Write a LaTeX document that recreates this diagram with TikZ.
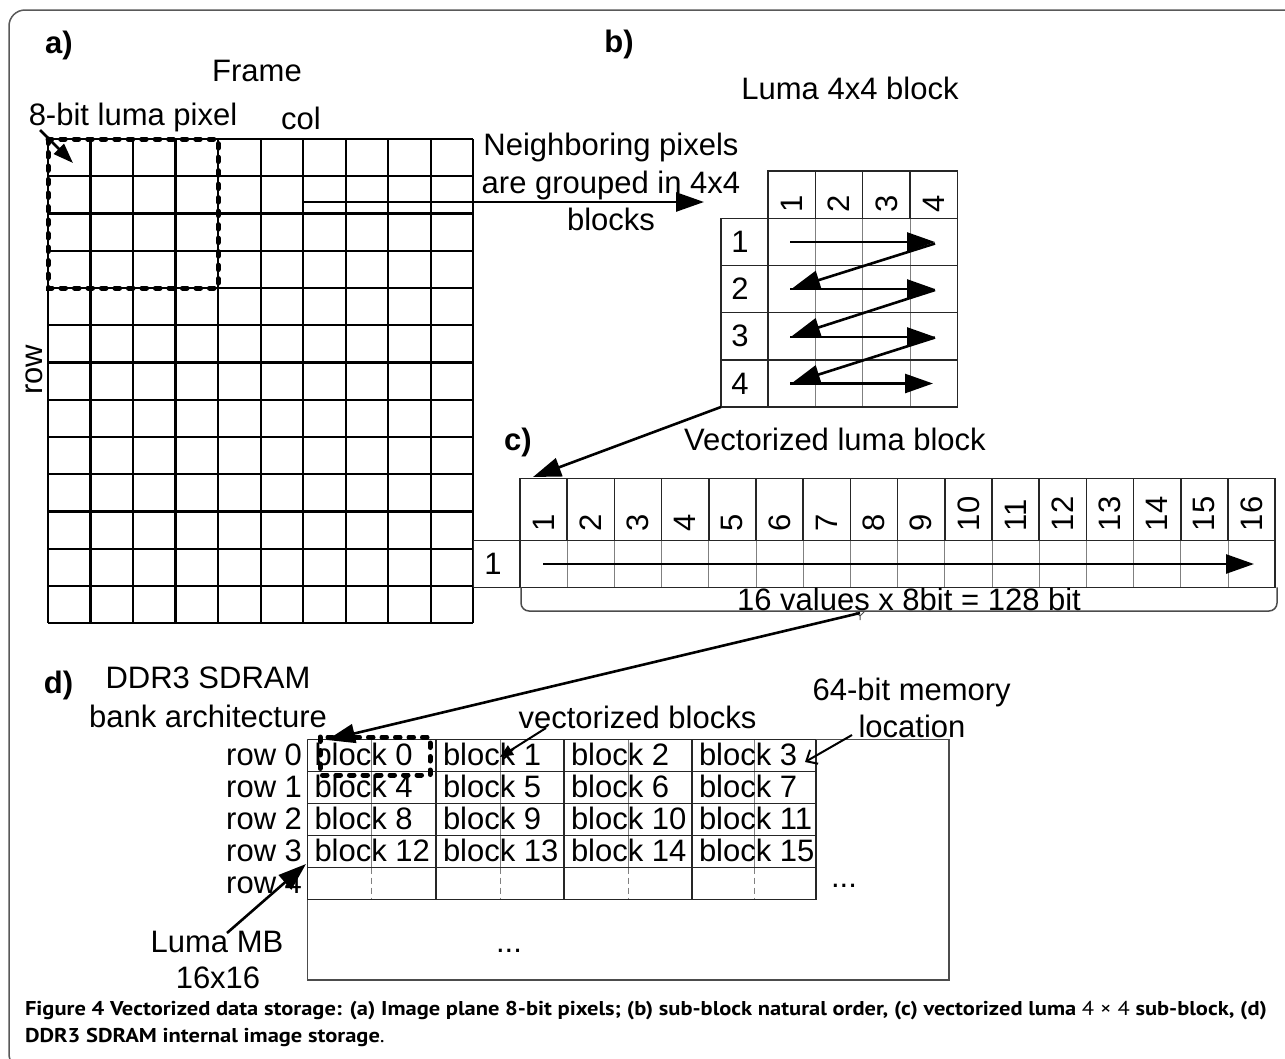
\documentclass[tikz,border=0pt]{standalone}
\usepackage{fontspec}
\usepackage{graphicx}
\setmainfont{Liberation Sans}
\newfontfamily\capfont{PT Sans}
\usetikzlibrary{arrows.meta}
\newsavebox\capboxA
\newlength\capwd
\begin{document}
\sbox\capboxA{\capfont\fontsize{20}{24}\selectfont\bfseries Figure 4 Vectorized data storage: (a) Image plane 8-bit pixels; (b) sub-block natural order, (c) vectorized luma {\mdseries 4 × 4} sub-block, (d)}%
\setlength\capwd{\wd\capboxA}%
\begin{tikzpicture}[x=1pt,y=-1pt,
  txt/.style={font=\fontsize{31}{37}\selectfont, inner sep=0pt, outer sep=0pt},
  lab/.style={font=\fontsize{31}{37}\selectfont\bfseries, inner sep=0pt, outer sep=0pt},
  gridA/.style={line width=2.2pt, black},
  gridB/.style={line width=1.5pt, black!85},
  gridthin/.style={line width=1pt, black!50},
  dotbox/.style={line width=5pt, dash pattern=on 4.5pt off 9pt, line cap=round},
  bigarrow/.style={line width=2.6pt, -{Triangle[length=28pt,width=19pt]}},
  midarrow/.style={line width=2.6pt, -{Triangle[length=20pt,width=14pt]}},
  smallarrow/.style={line width=2pt, -{Triangle[length=13pt,width=11pt]}},
  barbarrow/.style={line width=2pt, -{Straight Barb[length=9pt,width=16pt]}},
  framebox/.style={line width=1.5pt, black!65, rounded corners=16pt},
  capstyle/.style={inner sep=0pt, outer sep=0pt, anchor=base west}
]
\useasboundingbox (0,0) rectangle (1285,1058);
\clip (0,0) rectangle (1285,1058);
\fill[white] (0,0) rectangle (1285,1058);
\draw[framebox] (9,10) rectangle (1300,1070);

% ---------------- a) frame grid ----------------
\foreach \i in {0,...,10} \draw[gridA] ({48+\i*42.53},139) -- ({48+\i*42.53},623.3);
\foreach \j in {0,...,13} \draw[gridA] (48,{139+\j*37.25}) -- (473.3,{139+\j*37.25});
\draw[dotbox] (48,139) rectangle (218.1,288);

\node[lab, anchor=base] (la) at (59,53) {a)};
\node[txt, anchor=base] (frame) at (257,81) {Frame};
\node[txt, anchor=base] (pix) at (133,125) {8-bit luma pixel};
\node[txt, anchor=base] (col) at (301,129) {col};
\node[txt, rotate=90] (row) at (34,370) {row};
\coordinate (pixs) at (40,130);
\coordinate (pixe) at (73,163);
\draw[midarrow] (pixs) -- (pixe);

% ---------------- b) 4x4 block ----------------
\node[lab, anchor=base] (lb) at (619,52) {b)};
\node[txt, anchor=base] (luma44) at (850,99) {Luma 4x4 block};
\node[txt, anchor=base] (nb1) at (611,155) {Neighboring pixels};
\node[txt, anchor=base] (nb2) at (611,193) {are grouped in 4x4};
\node[txt, anchor=base] (nb3) at (611,230) {blocks};
% body thin lines
\foreach \i in {1,2,3} \draw[gridthin] ({768+\i*47.33},218.3) -- ({768+\i*47.33},407);
% header
\draw[gridB] (768,171) rectangle (957.3,218.3);
\foreach \i in {1,2,3} \draw[gridB] ({768+\i*47.33},171) -- ({768+\i*47.33},218.3);
% row label column and horizontals
\draw[gridB] (721,218.3) rectangle (957.3,407);
\draw[gridB] (768,218.3) -- (768,407);
\foreach \j in {1,2,3} \draw[gridB] (721,{218.3+\j*47.2}) -- (957.3,{218.3+\j*47.2});
\foreach \i in {1,...,4} {
  \node[txt, rotate=90, anchor=west] (bh\i) at ({768+(\i-0.5)*47.33},212) {\i};
  \node[txt] (bl\i) at (740,{218.3+(\i-0.5)*47.2}) {\i};
}
\coordinate (a1s) at (790,242);   \coordinate (a1e) at (935,242);
\coordinate (d1s) at (935,243.5); \coordinate (d1e) at (792,288.5);
\coordinate (a2s) at (790,289);   \coordinate (a2e) at (935,289);
\coordinate (d2s) at (935,290);   \coordinate (d2e) at (792,336);
\coordinate (a3s) at (790,337);   \coordinate (a3e) at (935,337);
\coordinate (d3s) at (935,337.5); \coordinate (d3e) at (792,383);
\coordinate (a4s) at (790,383.5); \coordinate (a4e) at (933,383.5);
\foreach \p in {a1,d1,a2,d2,a3,d3,a4} \draw[bigarrow] (\p s) -- (\p e);

% col arrow
\coordinate (cols) at (303,202);
\coordinate (cole) at (704,202);
\draw[bigarrow] (cols) -- (cole);

% ---------------- c) vectorized block ----------------
\node[lab, anchor=base] (lc) at (518,450) {c)};
\node[txt, anchor=base] (vlb) at (835,450) {Vectorized luma block};
\foreach \i in {1,...,15} \draw[gridthin] ({520+\i*47.2},540.7) -- ({520+\i*47.2},587.3);
\draw[gridB] (520,478.3) rectangle (1275.2,540.7);
\foreach \i in {1,...,15} \draw[gridB] ({520+\i*47.2},478.3) -- ({520+\i*47.2},540.7);
\draw[gridB] (473.3,540.7) rectangle (1275.2,587.3);
\draw[gridB] (520,540.7) -- (520,587.3);
\foreach \i in {1,...,16} \node[txt, rotate=90, anchor=west] (ch\i) at ({520+(\i-0.5)*47.2},531) {\i};
\node[txt] (cl1) at (493,564) {1};
\coordinate (vs) at (543,564);
\coordinate (ve) at (1254,564);
\draw[bigarrow] (vs) -- (ve);
% brace
\draw[line width=1.5pt, black!70, rounded corners=8pt] (521,587.3) -- (521,611) -- (1277,611) -- (1277,587.3);
\draw[line width=1pt, black!70] (855,611) -- (860,616) -- (865,611) (860,616) -- (860,620);
\node[txt, anchor=base] (vals) at (909,610.5) {16 values x 8bit = 128 bit};
% b -> c connector
\coordinate (bcs) at (721,407);
\coordinate (bce) at (533,477);
\draw[bigarrow] (bcs) -- (bce);

% ---------------- d) DDR3 ----------------
\node[lab, anchor=base] (ld) at (58.5,693) {d)};
\node[txt, anchor=base] (ddr) at (208,688) {DDR3 SDRAM};
\node[txt, anchor=base] (bank) at (208,727) {bank architecture};
\node[txt, anchor=base] (lmb1) at (217,952) {Luma MB};
\node[txt, anchor=base] (lmb2) at (218,988) {16x16};
\node[txt, anchor=base] (vecb) at (637.5,728) {vectorized blocks};
\node[txt, anchor=base] (mem1) at (911.7,700) {64-bit memory};
\node[txt, anchor=base] (mem2) at (912,737) {location};
\draw[line width=1.5pt, black!70] (307.5,739.5) rectangle (949,980);
% sub lines
\foreach \x in {371.75,500,628,754} {
  \draw[gridthin] (\x,739.5) -- (\x,867.5);
  \draw[gridthin, dashed, dash pattern=on 6pt off 4pt] (\x,867.5) -- (\x,899.5);
}
\foreach \r in {0,...,5} \draw[gridB] (307.5,{739.5+32*\r}) -- (816,{739.5+32*\r});
\foreach \x in {307.5,436,564,692,816} \draw[gridB] (\x,739.5) -- (\x,899.5);
\foreach \r in {0,...,3} {
  \foreach \c/\cx in {0/307.5,1/436,2/564,3/692} {
    \pgfmathtruncatemacro\n{4*\r+\c}
    \node[txt, anchor=base west] (blk\n) at ({\cx+7},{771.5+32*\r-6}) {block \n};
  }
}
\foreach \r in {0,...,4} \node[txt, anchor=base east] (rowl\r) at (302,{771.5+32*\r-6}) {row \r};
\node[txt, anchor=base] (dots1) at (844,887) {...};
\node[txt, anchor=base] (dots2) at (509,952) {...};
\draw[dotbox] (320,737) rectangle (430,775);
% connectors
\coordinate (brm) at (860,613);
\coordinate (b0c) at (327,740);
\draw[bigarrow] (brm) -- (b0c);
\coordinate (lms) at (227,933);
\coordinate (lme) at (306,864);
\draw[bigarrow] (lms) -- (lme);
\coordinate (vbs) at (546,728);
\coordinate (vbe) at (500,757);
\draw[smallarrow] (vbs) -- (vbe);
\coordinate (mls) at (852,735);
\coordinate (mle) at (805,762);
\draw[barbarrow] (mls) -- (mle);

% ---------------- caption ----------------
\pgfmathsetmacro\capfac{1242/\capwd}
\node[capstyle] (cap1) at (25,1015) {\scalebox{\capfac}[1]{\usebox\capboxA}};
\node[capstyle] (cap2) at (25,1042) {\scalebox{\capfac}[1]{\capfont\fontsize{20}{24}\selectfont\bfseries DDR3 SDRAM internal image storage\mdseries.}};
\end{tikzpicture}
\end{document}
